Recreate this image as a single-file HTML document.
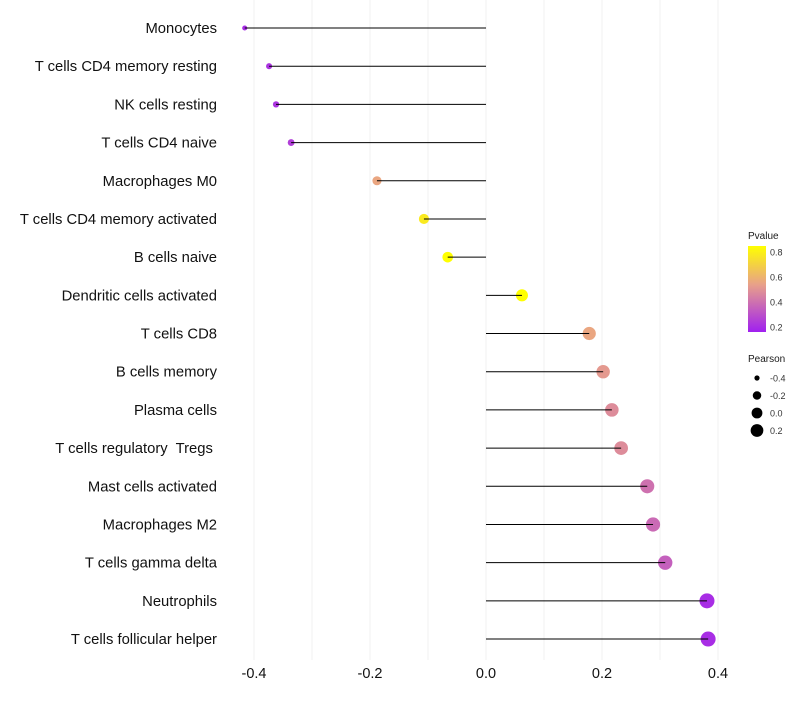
<!DOCTYPE html>
<html><head><meta charset="utf-8"><style>
body{margin:0;background:#fff;font-family:"Liberation Sans",sans-serif;}
svg text{font-family:"Liberation Sans",sans-serif;white-space:pre;}
</style></head><body>
<svg id="chart" width="800" height="700">
<defs><linearGradient id="pg" x1="0" y1="1" x2="0" y2="0">
<stop offset="0" stop-color="#A020F0"/><stop offset="0.55" stop-color="#E8A08A"/><stop offset="1" stop-color="#FFFF00"/></linearGradient></defs>
<g id="grid"></g><g id="marks"></g><g id="labels"></g><g id="legend"></g>
</svg>
<script>
const categories=["Monocytes","T cells CD4 memory resting","NK cells resting","T cells CD4 naive","Macrophages M0","T cells CD4 memory activated","B cells naive","Dendritic cells activated","T cells CD8","B cells memory","Plasma cells","T cells regulatory  Tregs ","Mast cells activated","Macrophages M2","T cells gamma delta","Neutrophils","T cells follicular helper"];
const pearson=[-0.416,-0.374,-0.362,-0.336,-0.188,-0.107,-0.066,0.062,0.178,0.202,0.217,0.233,0.278,0.288,0.309,0.381,0.383];
const pvalue=[0.2,0.22,0.22,0.25,0.56,0.78,0.85,0.85,0.56,0.52,0.48,0.48,0.4,0.38,0.35,0.2,0.2];
const xTicks=[-0.4,-0.2,0.0,0.2,0.4];
const pTicks=[0.2,0.4,0.6,0.8];
const sizeTicks=[-0.4,-0.2,0.0,0.2];
const NS="http://www.w3.org/2000/svg";
const X=v=>486+v*580;
const Y=i=>28+i*38.19;
const R=v=>Math.sqrt(Math.max(1,32.4+62.2*v));
function lerp(a,b,t){return a.map((c,k)=>Math.round(c+(b[k]-c)*t));}
function col(p){const lo=[160,32,240],mid=[232,160,138],hi=[255,255,0];const t=Math.min(1,Math.max(0,(p-0.16)/0.69));
const c=t<0.55?lerp(lo,mid,t/0.55):lerp(mid,hi,(t-0.55)/0.45);return `rgb(${c[0]},${c[1]},${c[2]})`;}
function mk(tag,attrs,parent,txt){const e=document.createElementNS(NS,tag);for(const k in attrs)e.setAttribute(k,attrs[k]);if(txt!==undefined)e.textContent=txt;parent.appendChild(e);return e;}
const grid=document.getElementById('grid'),marks=document.getElementById('marks'),labels=document.getElementById('labels'),legend=document.getElementById('legend');
for(let v=-0.4;v<=0.41;v+=0.1){const g=mk('line',{x1:X(v),x2:X(v),y1:0,y2:660,stroke:'#f0f0f0','stroke-width':1},grid);

}
xTicks.forEach(v=>{const t=mk('text',{x:X(v),y:678,'text-anchor':'middle','font-size':14.5,fill:'#111'},labels,v.toFixed(1));

});
categories.forEach((c,i)=>{
const t=mk('text',{x:217,y:Y(i)+5,'text-anchor':'end','font-size':14.8,fill:'#111'},labels,c);


const d=mk('circle',{cx:X(pearson[i]),cy:Y(i),r:R(pearson[i]),fill:col(pvalue[i])},marks);


const l=mk('line',{x1:X(0),x2:X(pearson[i]),y1:Y(i),y2:Y(i),stroke:'#000','stroke-width':1},marks);


});
const lt=mk('text',{x:748,y:239,'font-size':10,fill:'#1a1a1a'},legend,'Pvalue');


const bar=mk('rect',{x:748,y:246,width:18,height:86,fill:'url(#pg)'},legend);


const PY=p=>332-(p-0.16)/0.69*86;
pTicks.forEach(p=>{const t=mk('text',{x:770,y:PY(p)+3.5,'font-size':9,fill:'#333'},legend,p.toFixed(1));

});
const st=mk('text',{x:748,y:362,'font-size':10,fill:'#1a1a1a'},legend,'Pearson');


sizeTicks.forEach((v,k)=>{const cy=378+k*17.5;
const c=mk('circle',{cx:757,cy:cy,r:R(v)*0.95,fill:'#000'},legend);


const t=mk('text',{x:770,y:cy+3.5,'font-size':9,fill:'#333'},legend,v.toFixed(1));

});
</script>
</body></html>
